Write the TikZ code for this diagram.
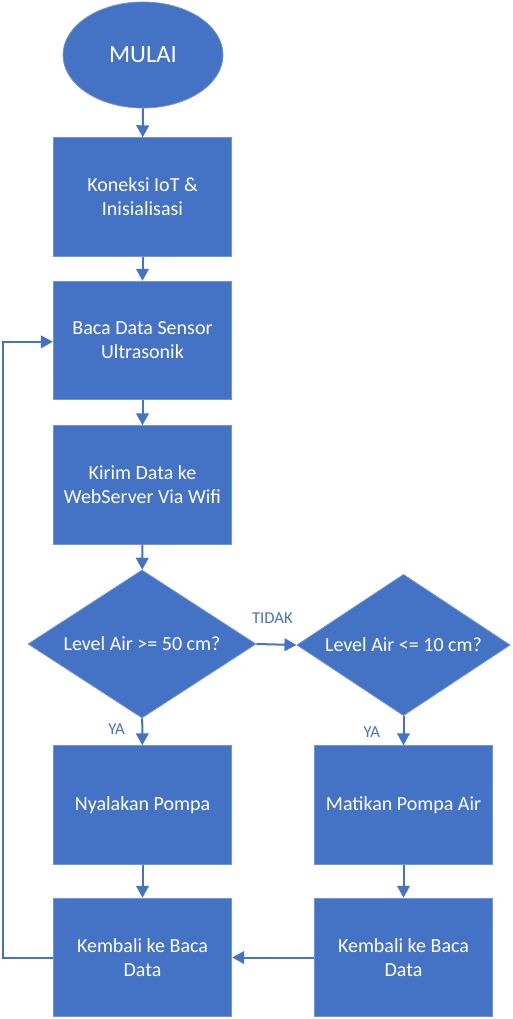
\documentclass[tikz,border=0pt]{standalone}
\usepackage{fontspec}
\setmainfont{Carlito}
\usetikzlibrary{arrows.meta, shapes.geometric}
\definecolor{officeblue}{HTML}{4472C4}
\tikzset{
  proses/.style={
    rectangle,
    fill=officeblue,
    draw=officeblue!75!white,
    line width=0.6pt,
    minimum width=134pt,
    minimum height=89pt,
    inner sep=2pt,
    align=center,
    text=white,
    font=\fontsize{15pt}{18pt}\selectfont
  },
  keputusan/.style={
    diamond,
    aspect=1.54,
    fill=officeblue,
    draw=officeblue!75!white,
    line width=0.6pt,
    inner sep=0pt,
    align=center,
    text=white,
    font=\fontsize{15pt}{18pt}\selectfont
  },
  terminal/.style={
    ellipse,
    fill=officeblue,
    draw=officeblue!75!white,
    line width=0.6pt,
    minimum width=120pt,
    minimum height=79.5pt,
    text=white,
    font=\fontsize{18.5pt}{22pt}\selectfont
  },
  alur/.style={
    -{Triangle[length=9pt, width=9.5pt]},
    line width=1.5pt,
    color=officeblue
  },
  ket/.style={
    text=officeblue,
    font=\fontsize{12.5pt}{15pt}\selectfont
  }
}

\begin{document}
\begin{tikzpicture}[x=0.75pt, y=-0.75pt]

  \useasboundingbox (0,0) rectangle (512,1019);

  %% ---- kolom kiri ----
  \node[terminal] (mulai)   at (143, 55)    {MULAI};
  \node[proses]   (koneksi) at (142.5, 197)  {Koneksi IoT \&\\Inisialisasi};
  \node[proses]   (baca)    at (142.5, 340.5) {Baca Data Sensor\\Ultrasonik};
  \node[proses]   (kirim)   at (142.5, 485)  {Kirim Data ke\\WebServer Via Wifi};

  % keputusan pertama
  \node[keputusan, minimum width=171pt, minimum height=111pt]
        (cek50) at (142, 644) {Level Air >= 50 cm?};

  \node[proses]   (nyala)   at (142.5, 805)  {Nyalakan Pompa};
  \node[proses]   (kembaliA) at (142.5, 957.5) {Kembali ke Baca\\Data};

  %% ---- kolom kanan ----
  \node[keputusan, aspect=1.51, minimum width=160pt, minimum height=106pt]
        (cek10) at (403.5, 645) {Level Air <= 10 cm?};

  \node[proses]   (mati)    at (403.5, 805)  {Matikan Pompa Air};
  \node[proses]   (kembaliB) at (403.5, 957.5) {Kembali ke Baca\\Data};

  %% ---- panah alur ----
  \draw[alur] (mulai)   -- (koneksi);
  \draw[alur] (koneksi) -- (baca);
  \draw[alur] (baca)    -- (kirim);
  \draw[alur] (kirim)   -- (cek50);
  \draw[alur] (cek50)   -- (nyala)
      node[ket, pos=0.4, left=9pt] (ya1) {YA};
  \draw[alur] (cek50.east) -- (cek10.west)
      node[ket, midway, above=12pt, xshift=-3pt] (tidak) {TIDAK};
  \draw[alur] (cek10)   -- (mati)
      node[ket, pos=0.55, left=13.5pt] (ya2) {YA};
  \draw[alur] (nyala)   -- (kembaliA);
  \draw[alur] (mati)    -- (kembaliB);
  \draw[alur] (kembaliB) -- (kembaliA);

  % kembali ke baca data (garis kiri)
  \coordinate (tepi) at (3, 0);
  \draw[alur] (kembaliA.west) -- (kembaliA.west -| tepi) |- ([yshift=-1pt]baca.west);

\end{tikzpicture}
\end{document}
